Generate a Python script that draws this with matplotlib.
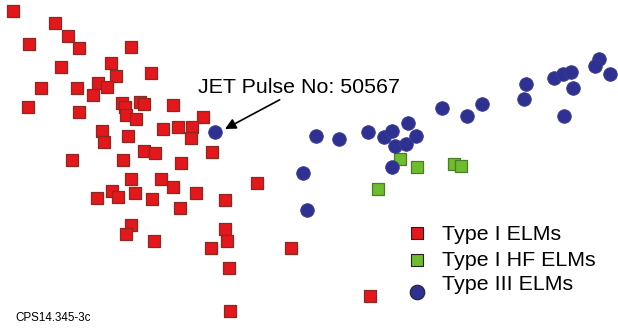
import matplotlib
matplotlib.use("Agg")
import matplotlib.pyplot as plt

plt.rcParams['font.family'] = ['Liberation Sans', 'DejaVu Sans']

# Point positions (picture units, y downwards)
type1_x = [13, 55, 68, 29, 79, 131, 61, 111, 116, 151, 41, 77, 98, 107, 93, 28, 79,
           122, 125, 140, 144, 126, 136, 173, 203, 102, 104, 128, 163, 178, 192, 191,
           72, 123, 144, 155, 212, 181, 131, 161, 173, 257, 97, 112, 118, 135, 152,
           196, 225, 180, 131, 126, 154, 225, 227, 211, 229, 230, 291, 370]
type1_y = [11, 23, 36, 44, 48, 47, 67, 63, 76, 73, 88, 88, 83, 87, 95, 107, 112,
           103, 107, 102, 104, 115, 119, 105, 117, 131, 142, 136, 129, 127, 127, 138,
           160, 160, 151, 153, 152, 163, 179, 179, 187, 183, 198, 191, 197, 193, 199,
           193, 200, 208, 225, 234, 241, 229, 241, 248, 268, 311, 248, 296]

type1hf_x = [400, 417, 378, 454, 461]
type1hf_y = [159, 167, 189, 164, 166]

type3_x = [215, 316, 339, 368, 384, 392, 408, 395, 406, 416, 442, 303, 392, 307,
           467, 482, 526, 524, 554, 563, 571, 573, 564, 599, 595, 610]
type3_y = [132, 136, 139, 132, 137, 131, 123, 146, 144, 136, 108, 173, 167, 210,
           116, 104, 84, 99, 78, 74, 72, 88, 116, 59, 66, 74]

labels = ["Type I ELMs", "Type I HF ELMs", "Type III ELMs"]
annot_text = "JET Pulse No: 50567"
annot_point = (215, 132)
footer = "CPS14.345-3c"

red = "#e3171c"
green = "#6ebd2c"
blue = "#2e3192"

fig = plt.figure(figsize=(6.18, 3.31), dpi=100)
ax = fig.add_axes([0, 0, 1, 1])
ax.set_xlim(0, 618)
ax.set_ylim(331, 0)
ax.axis("off")

ax.scatter(type1_x, type1_y, marker="s", s=68, c=red, edgecolors="#8a2a22", linewidths=0.9, zorder=2)
ax.scatter(type1hf_x, type1hf_y, marker="s", s=68, c=green, edgecolors="#4e7d2a", linewidths=0.9, zorder=2)
ax.scatter(type3_x, type3_y, marker="o", s=96, c=blue, edgecolors="#3a3d8a", linewidths=0.6, zorder=3)

ax.annotate(annot_text, xy=(annot_point[0] + 10, annot_point[1] - 3), xytext=(198, 93),
            fontsize=15.4, color="black", ha="left", va="baseline",
            arrowprops=dict(arrowstyle="-|>", color="black", lw=1.2, mutation_scale=16,
                            shrinkA=0, shrinkB=0,
                            relpos=(0.43, 0.0)))

# legend drawn manually
leg_markers = [("s", red), ("s", green), ("o", blue)]
leg_marker_y = [233, 260, 292]
leg_text_y = [234, 260, 285]
for (m, col), my, ty, lab in zip(leg_markers, leg_marker_y, leg_text_y, labels):
    ax.scatter([417], [my], marker=m, s=(72 if m == "s" else 110), c=col,
               edgecolors="#222222", linewidths=0.8, zorder=3)
    ax.text(442, ty, lab, fontsize=15.4, ha="left", va="center", color="black")

ax.text(15, 318, footer, fontsize=8.4, ha="left", va="center", color="black")

fig.savefig("out.png", dpi=100)
